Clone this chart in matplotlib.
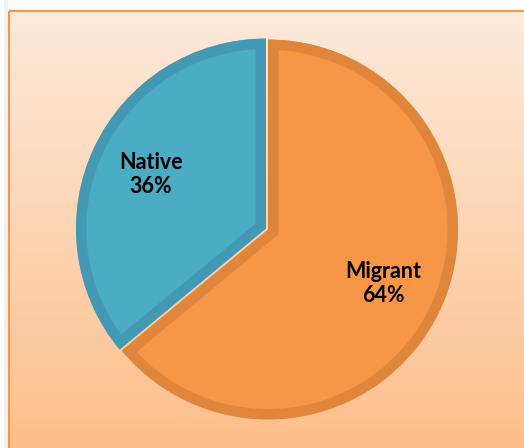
import numpy as np
import matplotlib.pyplot as plt
from matplotlib.patches import Rectangle
from matplotlib.colors import LinearSegmentedColormap

# data
groups = ['Native', 'Migrant']
shares = [36, 64]
fills = ['#4BACC6', '#F79646']
edges = ['#4399B3', '#E0863C']

W, H = 524, 448
fig = plt.figure(figsize=(W / 100, H / 100), dpi=100)
fig.patch.set_facecolor('white')

# background panel with vertical gradient
bg = fig.add_axes([0, 0, 1, 1])
bg.set_xlim(0, W)
bg.set_ylim(H, 0)
bg.axis('off')
cmap = LinearSegmentedColormap.from_list('bgc', ['#FDEADB', '#FCBF8B'])
grad = np.linspace(0, 1, 256).reshape(-1, 1)
bg.add_patch(Rectangle((0, 0), 8, H, facecolor='#F2F2F2', edgecolor='none'))
bg.add_patch(Rectangle((0, 0), 4, H, facecolor='white', edgecolor='none'))
bg.imshow(grad, cmap=cmap, aspect='auto', extent=(9, W + 2, H + 2, 11), zorder=1)
bg.add_patch(Rectangle((9, 11), W, H, facecolor='none', edgecolor='#F79646', lw=1.5, zorder=2))

# pie
cx, cy, r = 267, 229, 190
half = 200
ax = fig.add_axes([(cx - half) / W, (H - cy - half) / H, 2 * half / W, 2 * half / H])
ax.set_facecolor('none')

labels = [f'{g}\n{s}%' for g, s in zip(groups, shares)]
wedges, texts = ax.pie(shares, labels=labels, colors=fills, startangle=90,
                       counterclock=True, explode=[0.006, 0.006],
                       labeldistance=0.67, radius=1.0,
                       textprops=dict(fontsize=15.5, fontweight='bold',
                                      family=['Lato', 'DejaVu Sans'], color='black',
                                      linespacing=1.15))
lim = half / r
ax.set_xlim(-lim, lim)
ax.set_ylim(-lim, lim)
ax.set_aspect('equal')
ax.axis('off')

# darker border drawn on the inside of each slice
for w, ec in zip(wedges, edges):
    w.set_edgecolor(ec)
    w.set_linewidth(15)
    w.set_clip_on(True)
    w.set_clip_path(w)
for t in texts:
    t.set_ha('center')
    t.set_va('center')
    t.set_multialignment('center')

fig.savefig('out.png', dpi=100)
